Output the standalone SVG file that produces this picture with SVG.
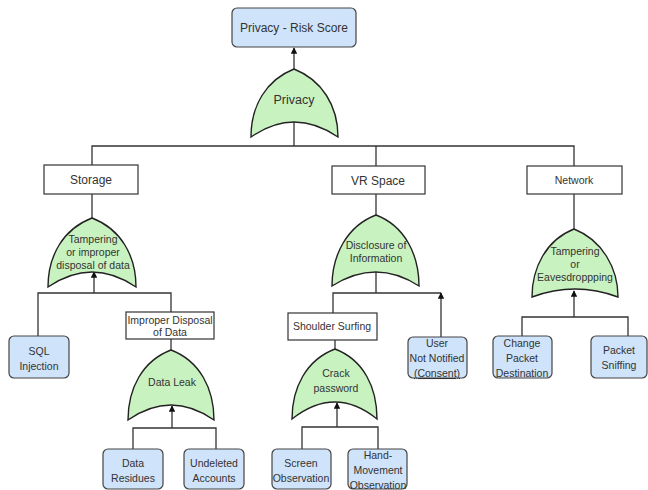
<svg xmlns="http://www.w3.org/2000/svg" width="648" height="490" viewBox="0 0 648 490">
  <style>
    .wire { stroke: #333; stroke-width: 1.3; fill: none; }
    .box { fill: #ffffff; stroke: #333; stroke-width: 1.2; }
    .leaf { fill: #cfe3fa; stroke: #444; stroke-width: 1.2; }
    .gate { fill: #c9f2c1; stroke: #222; stroke-width: 1.4; }
    text { font-family: "Liberation Sans", Arial, sans-serif; fill: #333; text-anchor: middle; font-size: 10.5px; }
    .big { font-size: 12px; }
    .gate-title { font-size: 12.5px; }
  </style>
  <defs>
    <marker id="arr" viewBox="0 0 10 10" refX="9" refY="5" markerWidth="5" markerHeight="5" orient="auto">
      <path d="M0,0 L10,5 L0,10 z" fill="#111"/>
    </marker>
  </defs>

  <rect width="648" height="490" fill="#ffffff"/>

  <!-- connectors -->
  <g id="connectors">
    <path class="wire" d="M294,69 V48" marker-end="url(#arr)"/>
    <path class="wire" d="M294,122 V146"/>
    <path class="wire" d="M92,165 V146 H574 V166"/>
    <path class="wire" d="M376,146 V166"/>
    <path class="wire" d="M92,194 V218"/>
    <path class="wire" d="M376,194 V215"/>
    <path class="wire" d="M574,194 V229"/>
    <!-- storage branch -->
    <path class="wire" d="M94,293 V272" marker-end="url(#arr)"/>
    <path class="wire" d="M38,336 V293 H171 V312"/>
    <path class="wire" d="M171,339 V350"/>
    <path class="wire" d="M172,428 V406" marker-end="url(#arr)"/>
    <path class="wire" d="M133,449 V428 H216 V449"/>
    <!-- VR space branch -->
    <path class="wire" d="M376,272 V293"/>
    <path class="wire" d="M333,313 V293 H441"/>
    <path class="wire" d="M441,337 V293" marker-end="url(#arr)"/>
    <path class="wire" d="M335,340 V349"/>
    <path class="wire" d="M337,427 V403" marker-end="url(#arr)"/>
    <path class="wire" d="M302,449 V427 H378 V449"/>
    <!-- network branch -->
    <path class="wire" d="M574,317 V291" marker-end="url(#arr)"/>
    <path class="wire" d="M522,336 V317 H628 V336"/>
  </g>

  <g id="risk-score">
    <rect class="leaf" x="232" y="8" width="124" height="39" rx="5"/>
    <text class="big" x="294" y="32">Privacy - Risk Score</text>
  </g>

  <g id="gate-privacy">
    <path class="gate" d="M251,137 C251,106 266,80 294,69 C322,80 338,106 338,137 Q294,107 251,137 Z"/>
    <text class="gate-title" x="294" y="104">Privacy</text>
  </g>

  <g id="storage">
    <rect class="box" x="44" y="165" width="94" height="29"/>
    <text class="big" x="91" y="184">Storage</text>
  </g>
  <g id="vr-space">
    <rect class="box" x="332" y="166" width="93" height="28"/>
    <text class="big" x="378" y="185">VR Space</text>
  </g>
  <g id="network">
    <rect class="box" x="527" y="166" width="95" height="28"/>
    <text x="574" y="184">Network</text>
  </g>

  <g id="gate-storage">
    <path class="gate" d="M48,287 C48,256 63,229 92,218 C121,229 136,256 136,287 Q92,257 48,287 Z"/>
    <text x="93" y="243">Tampering</text>
    <text x="93" y="256">or improper</text>
    <text x="93" y="269">disposal of data</text>
  </g>

  <g id="gate-vr">
    <path class="gate" d="M332,286 C332,255 347,226 376,215 C405,226 419,255 419,286 Q376,258 332,286 Z"/>
    <text x="376" y="249">Disclosure of</text>
    <text x="376" y="262">Information</text>
  </g>

  <g id="gate-network">
    <path class="gate" d="M532,297 C532,268 546,240 574,229 C602,240 618,268 618,297 Q575,281 532,297 Z"/>
    <text x="575" y="255">Tampering</text>
    <text x="575" y="268">or</text>
    <text x="575" y="281">Eavesdroppping</text>
  </g>

  <g id="sql-injection">
    <rect class="leaf" x="9" y="336" width="60" height="42" rx="5"/>
    <text x="39" y="355">SQL</text>
    <text x="39" y="370">Injection</text>
  </g>

  <g id="improper-disposal">
    <rect class="box" x="126" y="312" width="88" height="27"/>
    <text x="170" y="324">Improper Disposal</text>
    <text x="170" y="336">of Data</text>
  </g>

  <g id="gate-data-leak">
    <path class="gate" d="M128,420 C128,389 142,361 171,350 C200,361 214,389 214,420 Q171,390 128,420 Z"/>
    <text x="172" y="386">Data Leak</text>
  </g>

  <g id="data-residues">
    <rect class="leaf" x="103" y="449" width="60" height="40" rx="5"/>
    <text x="133" y="467">Data</text>
    <text x="133" y="482">Residues</text>
  </g>
  <g id="undeleted-accounts">
    <rect class="leaf" x="184" y="449" width="60" height="40" rx="5"/>
    <text x="214" y="467">Undeleted</text>
    <text x="214" y="482">Accounts</text>
  </g>

  <g id="shoulder-surfing">
    <rect class="box" x="288" y="313" width="89" height="27"/>
    <text x="332" y="330">Shoulder Surfing</text>
  </g>

  <g id="user-not-notified">
    <rect class="leaf" x="408" y="337" width="59" height="41" rx="5"/>
    <text x="437" y="347">User</text>
    <text x="437" y="362">Not Notified</text>
    <text x="437" y="377" text-decoration="underline">(Consent)</text>
  </g>

  <g id="gate-crack-password">
    <path class="gate" d="M292,419 C292,388 306,360 335,349 C364,360 377,388 377,419 Q335,385 292,419 Z"/>
    <text x="336" y="377">Crack</text>
    <text x="336" y="392">password</text>
  </g>

  <g id="screen-observation">
    <rect class="leaf" x="272" y="449" width="59" height="40" rx="5"/>
    <text x="301" y="467">Screen</text>
    <text x="301" y="482">Observation</text>
  </g>
  <g id="hand-movement">
    <rect class="leaf" x="348" y="449" width="59" height="40" rx="5"/>
    <text x="378" y="459">Hand-</text>
    <text x="378" y="474">Movement</text>
    <text x="378" y="489">Observation</text>
  </g>

  <g id="change-packet-destination">
    <rect class="leaf" x="493" y="336" width="59" height="42" rx="5"/>
    <text x="522" y="347">Change</text>
    <text x="522" y="362">Packet</text>
    <text x="522" y="377">Destination</text>
  </g>
  <g id="packet-sniffing">
    <rect class="leaf" x="591" y="336" width="56" height="42" rx="5"/>
    <text x="619" y="354">Packet</text>
    <text x="619" y="369">Sniffing</text>
  </g>
</svg>
